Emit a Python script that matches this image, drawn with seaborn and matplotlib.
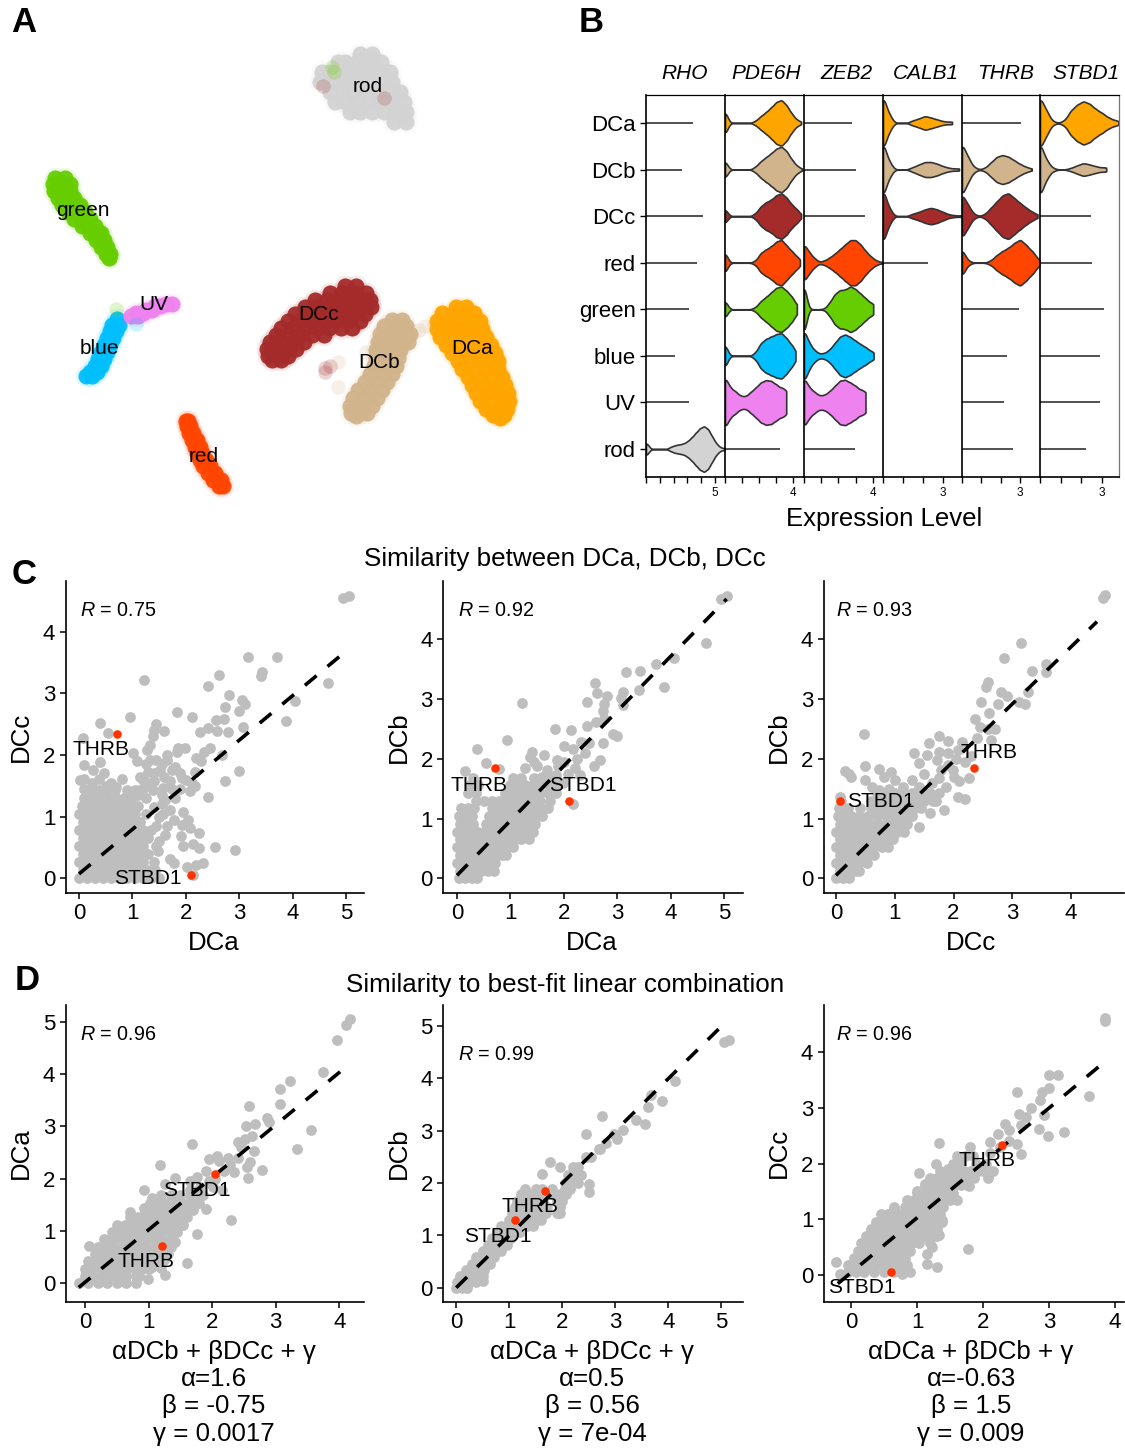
import numpy as np
import matplotlib
matplotlib.use("Agg")
import matplotlib.pyplot as plt
import seaborn as sns

W, H = 1125, 1449
CELLS = ["DCa", "DCb", "DCc", "red", "green", "blue", "UV", "rod"]
COLORS = {"DCa": "#FFA500", "DCb": "#D2B48C", "DCc": "#A52A2A", "red": "#FF4500",
          "green": "#66CD00", "blue": "#00BFFF", "UV": "#EE82EE", "rod": "#D3D3D3"}

# ---------- panel A: embedding, rows of y -> x positions per cluster ----------
A_rod = {54: [360, 372], 62: [338, 345, 357, 369, 381], 72: [322, 330, 342, 354, 366, 378, 390],
         82: [320, 332, 344, 356, 368, 380, 392], 92: [330, 342, 354, 366, 378, 390, 400],
         102: [335, 345, 357, 369, 381, 393, 404], 112: [350, 360, 372, 384, 396, 406], 122: [394, 406]}
A_green = {178: [55, 65], 184: [53, 63, 70], 191: [54, 62, 70], 198: [58, 66, 74], 205: [62, 70, 80], 212: [68, 76, 85],
           219: [74, 82, 90], 226: [82, 89, 95], 233: [90, 97, 101], 240: [96, 104], 247: [101, 107], 254: [106, 110], 258: [109]}
A_blue = {319: [117], 325: [112, 119], 331: [110, 116], 338: [107, 113], 345: [104, 110], 352: [101, 107],
          359: [98, 104], 366: [95, 101], 372: [90, 97], 376: [86, 92]}
A_UV = {304: [172, 166], 306: [155, 160], 310: [146, 152], 313: [136, 143], 316: [131, 138]}
A_red = {421: [186, 188], 426: [187, 190], 433: [189, 193], 440: [192, 197], 447: [195, 200], 453: [197, 202],
         460: [200, 206], 466: [203, 210], 473: [208, 215], 480: [213, 221], 486: [219, 223]}
A_DCc = {286: [345, 356], 293: [330, 342, 354, 366], 300: [315, 327, 339, 351, 363, 370],
         307: [305, 317, 329, 341, 353, 365, 371], 314: [295, 307, 319, 331, 343, 355, 365],
         321: [288, 300, 312, 324, 336, 348, 360], 328: [281, 293, 305, 317, 329, 341, 352],
         335: [276, 288, 300, 312, 324], 342: [270, 282, 294, 304], 349: [267, 277, 289, 296],
         356: [268, 280, 288], 360: [272, 281]}
A_DCb = {320: [392, 402], 326: [384, 396, 406], 334: [380, 392, 404, 410], 342: [378, 390, 402, 408],
         350: [376, 388, 400], 358: [376, 388, 398], 366: [374, 386, 396], 374: [370, 382, 392],
         382: [365, 377, 387], 390: [358, 370, 382], 398: [353, 365, 377], 406: [350, 362, 372],
         413: [351, 360, 367], 416: [356]}
A_DCa = {307: [456, 466], 313: [442, 454, 466, 474], 321: [437, 448, 460, 472, 480],
         329: [437, 448, 460, 472, 482], 337: [440, 452, 464, 476, 486], 345: [446, 458, 470, 482, 491],
         353: [452, 464, 476, 488, 495], 361: [458, 470, 482, 494, 498], 369: [462, 474, 486, 498],
         377: [468, 480, 492, 502], 385: [472, 484, 496, 505], 393: [476, 488, 500, 508],
         401: [480, 492, 504, 509], 409: [486, 498, 507], 415: [493, 504], 418: [500]}
A_clusters = {"rod": A_rod, "green": A_green, "blue": A_blue, "UV": A_UV, "red": A_red,
              "DCc": A_DCc, "DCb": A_DCb, "DCa": A_DCa}
A_stray_x = [332, 334, 323, 384, 325, 325, 330, 338, 338, 116, 136, 419, 425, 366]
A_stray_y = [67, 72, 86, 98, 372, 368, 366, 362, 387, 309, 324, 330, 326, 352]
A_stray_cell = ["green", "green", "DCc", "DCc", "DCc", "DCc", "DCc", "DCb", "DCb", "green", "blue", "DCb", "DCb", "DCb"]
A_labels = {"rod": (368, 86), "green": (83, 211), "UV": (154, 305), "blue": (99, 348),
            "DCc": (318, 315), "DCb": (379, 363), "DCa": (472, 349), "red": (204, 456)}

# ---------- panel B: expression samples (value, number of cells) ----------
GENES = ["RHO", "PDE6H", "ZEB2", "CALB1", "THRB", "STBD1"]
GENE_TITLE_X = [685, 766, 846, 926, 1006, 1086]
RHO_v = {"rod": [(0, 8), (.15, 2), (1.8, 3), (2.1, 5), (2.4, 6), (2.7, 7), (3.0, 10), (3.3, 15), (3.6, 21), (3.9, 27),
                 (4.2, 30), (4.5, 26), (4.8, 16), (5.1, 7), (5.4, 2), (5.7, 1)]}
PDE6H_v = {
    "DCa": [(0, 16), (1.8, 3), (2.1, 9), (2.4, 14), (2.7, 20), (3.0, 27), (3.3, 30), (3.6, 23), (3.9, 12), (4.2, 4), (4.45, 1)],
    "DCb": [(0, 12), (1.8, 4), (2.1, 11), (2.4, 16), (2.7, 21), (3.0, 27), (3.3, 30), (3.6, 24), (3.9, 13), (4.2, 5), (4.5, 1)],
    "DCc": [(0, 10), (1.8, 4), (2.1, 13), (2.4, 18), (2.7, 21), (3.0, 27), (3.3, 30), (3.6, 24), (3.9, 15), (4.2, 9), (4.45, 1)],
    "red": [(0, 14), (1.8, 3), (2.1, 13), (2.4, 17), (2.7, 21), (3.0, 27), (3.3, 30), (3.6, 22), (3.9, 15), (4.2, 8), (4.38, 1)],
    "green": [(0, 12), (1.8, 3), (2.1, 11), (2.4, 16), (2.7, 22), (3.0, 28), (3.3, 30), (3.6, 24), (3.9, 17), (4.2, 6)],
    "blue": [(0, 16), (1.8, 5), (2.1, 17), (2.4, 22), (2.7, 25), (3.0, 28), (3.3, 30), (3.6, 23), (3.9, 14), (4.12, 3)],
    "UV": [(0, 36), (.3, 20), (.6, 15), (.9, 9), (1.2, 8), (1.5, 14), (1.8, 20), (2.1, 27), (2.4, 30), (2.7, 29),
           (3.0, 24), (3.3, 19), (3.58, 16)]}
ZEB2_v = {
    "red": [(0, 26), (.3, 14), (.6, 6), (.9, 1), (1.2, 3), (1.5, 7), (1.8, 12), (2.1, 18), (2.4, 24), (2.7, 30), (3.0, 30),
            (3.3, 24), (3.6, 15), (3.9, 8), (4.2, 3), (4.55, 1)],
    "green": [(0, 34), (1.2, 1), (1.5, 9), (1.8, 20), (2.1, 25), (2.4, 25), (2.7, 30), (3.0, 26), (3.3, 20), (3.6, 14),
              (3.9, 7), (4.03, 3)],
    "blue": [(0, 38), (.3, 18), (.6, 8), (.9, 3), (1.2, 4), (1.5, 9), (1.8, 18), (2.1, 27), (2.4, 30), (2.7, 26), (3.0, 21),
             (3.3, 16), (3.6, 12), (3.9, 6), (4.05, 2)],
    "UV": [(0, 34), (.3, 20), (.6, 14), (.9, 9), (1.2, 10), (1.5, 15), (1.8, 22), (2.1, 29), (2.4, 30), (2.7, 26), (3.0, 22),
           (3.3, 16), (3.58, 14)]}
CALB1_v = {
    "DCa": [(0, 32), (.3, 10), (1.5, 3), (1.8, 5), (2.1, 8), (2.4, 6), (2.7, 4), (3.0, 2), (3.3, 1), (3.45, 1)],
    "DCb": [(0, 34), (.3, 10), (1.5, 3), (1.8, 6), (2.1, 9), (2.4, 9), (2.7, 7), (3.0, 4), (3.3, 2), (3.6, 1), (3.8, 1)],
    "DCc": [(0, 34), (.3, 10), (1.5, 3), (1.8, 5), (2.1, 8), (2.4, 10), (2.7, 8), (3.0, 5), (3.3, 2), (3.6, 1), (3.95, 1)]}
THRB_v = {
    "DCb": [(0, 30), (.3, 14), (.6, 3), (1.2, 2), (1.5, 8), (1.8, 14), (2.1, 16), (2.4, 14), (2.7, 10), (3.0, 6), (3.3, 3), (3.6, 1)],
    "DCc": [(0, 30), (.3, 15), (.6, 3), (1.2, 3), (1.5, 11), (1.8, 19), (2.1, 27), (2.4, 30), (2.7, 23), (3.0, 17), (3.3, 11),
            (3.6, 6), (3.9, 2)],
    "red": [(0, 18), (.3, 3), (1.5, 3), (1.8, 10), (2.1, 15), (2.4, 19), (2.7, 25), (3.0, 30), (3.3, 23), (3.6, 15), (3.85, 5), (4.0, 1)]}
STBD1_v = {
    "DCa": [(0, 30), (.3, 14), (.6, 2), (1.2, 3), (1.5, 14), (1.8, 20), (2.1, 24), (2.4, 21), (2.7, 15), (3.0, 11), (3.3, 6),
            (3.6, 3), (3.8, 1)],
    "DCb": [(0, 34), (.3, 12), (.6, 2), (1.5, 2), (1.8, 5), (2.1, 8), (2.4, 6), (2.7, 4), (3.0, 2), (3.2, 2)]}
RHO_flat = {"DCa": 3.4, "DCb": 2.58, "DCc": 4.12, "red": 3.69, "green": 3.12, "blue": 2.11, "UV": 3.14}
PDE6H_flat = {"rod": 3.2}
ZEB2_flat = {"DCa": 2.82, "DCb": 3.04, "DCc": 3.58, "rod": 2.99}
CALB1_flat = {"red": 2.27}
THRB_flat = {"DCa": 3.06, "green": 2.92, "blue": 2.35, "UV": 2.15, "rod": 2.64}
STBD1_flat = {"DCc": 2.47, "red": 2.53, "green": 3.09, "blue": 2.92, "UV": 2.92, "rod": 2.22}
GENE_VIOLINS = [RHO_v, PDE6H_v, ZEB2_v, CALB1_v, THRB_v, STBD1_v]
GENE_FLAT = [RHO_flat, PDE6H_flat, ZEB2_flat, CALB1_flat, THRB_flat, STBD1_flat]
GENE_XMAX = [5.72, 4.62, 4.6, 3.95, 4.03, 3.82]
GENE_TICKS = [[0, 1, 2, 3, 4, 5], [0, 1, 2, 3, 4], [0, 1, 2, 3, 4], [0, 1, 2, 3], [0, 1, 2, 3], [0, 1, 2, 3]]

# ---------- panels C, D: scatter values, sparse outliers + dense rows (y: xs) ----------
C1_pts = [(4.94,4.54),(5.06,4.58),(3.17,3.59),(3.71,3.58),(3.43,3.34),(3.40,3.28),(2.62,3.29),(2.42,3.12),(1.21,3.22),(4.66,3.16),
 (2.80,2.97),(3.05,2.89),(3.10,2.82),(4.04,2.88),(2.74,2.77),(3.0,2.72),(3.87,2.55),(2.72,2.59),(2.57,2.57),(3.08,2.45),(1.83,2.70),
 (2.12,2.62),(.95,2.62),(.39,2.51),(.54,2.35),(.07,2.28),(2.26,2.37),(2.42,2.44),(2.59,2.38),(2.79,2.37),(1.44,2.50),(1.41,2.41),
 (1.59,2.39),(1.39,2.30),(1.33,2.16),(1.27,2.08),(1.98,2.12),(1.86,2.11),(1.83,2.04),(2.45,2.12),(2.34,2.05),(2.67,2.0),(2.28,1.90),
 (2.99,1.74),(2.73,1.57),(2.17,1.73),(1.02,2.03),(1.08,1.90),(.40,1.89),(.09,1.83),(.26,1.76),(.46,1.70),(.37,1.61),(.09,1.61),(.02,1.59),
 (.81,1.61),(1.33,1.92),(1.45,1.92),(1.64,1.91),(1.52,1.76),(1.30,1.73),(1.14,1.65),(1.8,1.81),(1.89,1.70),(1.92,1.62),(1.40,1.57),
 (1.70,1.57),(1.58,1.46),(1.39,1.43),(2.11,1.54),(2.08,1.41),(2.17,1.49),(2.41,1.32),(1.8,1.30),(1.61,1.27),(1.95,1.08),(2.05,.95),
 (1.77,.95),(1.92,.86),(2.08,.81),(1.64,.84),(1.61,.70),(2.25,.73),(1.91,.68),(1.95,.53),(2.14,.56),(2.25,.49),(2.54,.50),(2.93,.46),
 (1.70,.32),(1.77,.25),(2.03,.19),(2.2,.22),(2.33,.24),(2.14,.05),(1.58,1.05),(1.7,1.11),(1.3,1.55),(1.2,1.45),(1.5,.6),(1.48,.45),
 (1.1,1.35),(1.25,1.3),(1.55,1.2),(1.4,1.15),(1.5,1.0),(1.45,.85),(1.55,1.35),(1.75,1.45),(1.2,1.6),(1.6,1.65),(1.75,1.75),(1.55,1.85),
 (1.9,1.45),(2.0,1.6),(1.25,1.85),(1.4,1.7),(.6,1.55),(.7,1.48),(.5,1.5),(.25,1.55),(.1,1.45),(2.2,1.95),(1.65,2.0)]
C1_rows = {0: [0,.15,.3,.45,.6,.75,.9,1.05,1.2,1.35,1.5], .13: [.075,.225,.375,.525,.675,.825,.975,1.125,1.275,1.42],
 .26: [0,.15,.3,.45,.6,.75,.9,1.05,1.2,1.4], .39: [.075,.225,.375,.525,.675,.825,.975,1.125,1.3], .52: [0,.15,.3,.45,.6,.75,.9,1.05,1.2,1.45],
 .65: [.075,.225,.375,.525,.675,.825,.975,1.125,1.3], .78: [0,.15,.3,.45,.6,.75,.9,1.05,1.2,1.35], .91: [.075,.225,.375,.525,.675,.825,.975,1.15],
 1.04: [0,.15,.3,.45,.6,.75,.9,1.05,1.25], 1.17: [.05,.2,.35,.5,.65,.8,.95,1.1], 1.3: [.1,.25,.4,.55,.7,.85,1.0],
 1.43: [.22,.37,.5,.68,.9,1.05,1.15]}
C1_line = ([0, 5.05], [.07, 3.72])
C1_red = ([.71, 2.10], [2.34, .06])

C2_pts = [(4.94,4.67),(5.06,4.72),(4.66,3.94),(4.06,3.68),(3.73,3.58),(3.16,3.45),(3.43,3.47),(3.88,3.2),(2.58,3.27),(2.63,3.09),(2.81,3.04),
 (3.10,3.12),(3.07,3.01),(3.40,3.14),(1.21,2.93),(2.44,2.95),(2.75,2.91),(2.73,2.79),(3.10,2.90),(2.76,2.66),(2.61,2.62),(2.44,2.55),
 (1.84,2.50),(2.14,2.48),(2.92,2.42),(2.99,2.38),(.94,2.32),(.38,2.16),(2.73,2.26),(2.0,2.22),(2.32,2.28),(2.48,2.26),(2.18,2.17),(2.67,1.98),
 (2.56,1.88),(.54,1.92),(.78,1.83),(.15,1.79),(1.41,2.12),(1.63,2.06),(1.36,2.03),(1.87,1.98),(1.90,1.87),(1.27,1.84),(1.5,1.87),(1.68,1.81),
 (2.21,1.84),(2.3,1.73),(2.08,1.75),(1.99,1.59),(2.17,1.25),(1.45,1.95),(1.6,1.7),(1.85,1.72),(1.75,1.6),(2.0,1.95),(2.25,2.0),(2.4,2.1)]
C2_rows = {0: [.03,.15,.28,.38], .13: [.065,.195,.325,.455,.58,.7], .26: [0,.13,.26,.39,.52,.65,.72], .39: [.065,.195,.325,.455,.585,.715,.845,.92],
 .52: [0,.13,.26,.39,.52,.65,.78,.91,1.05], .65: [.065,.195,.325,.455,.585,.715,.845,.975,1.105,1.2,1.35], .78: [0,.13,.26,.39,.52,.65,.78,.91,1.04,1.17,1.3,1.42],
 .91: [.06,.19,.3,.55,.68,.81,.94,1.07,1.2,1.33,1.46], 1.04: [.03,.16,.29,.6,.73,.86,.99,1.12,1.25,1.38,1.5,1.6], 1.17: [.08,.21,.32,.65,.78,.91,1.04,1.17,1.3,1.43,1.56,1.7],
 1.3: [.35,.5,.65,.78,.91,1.04,1.17,1.3,1.43,1.56,1.75], 1.43: [.2,.35,.9,1.04,1.17,1.3,1.43,1.56,1.7,1.85], 1.56: [.25,.4,1.0,1.14,1.28,1.42,1.56,1.7,1.9], 1.68: [.3,1.05,1.2,1.45,1.6,1.72,1.82]}
C2_line = ([0, 5.05], [.05, 4.67])
C2_red = ([.71, 2.10], [1.84, 1.29])

C3_pts = [(4.55,4.68),(4.58,4.73),(3.14,3.94),(2.86,3.68),(3.33,3.47),(3.57,3.58),(3.57,3.45),(2.59,3.28),(2.55,3.19),(3.27,3.12),(2.80,3.12),
 (2.91,3.04),(3.11,2.94),(3.22,2.92),(2.47,2.94),(2.75,2.91),(2.61,2.77),(2.37,2.67),(2.45,2.53),(2.71,2.49),(2.59,2.49),(2.63,2.32),(.47,2.42),
 (1.75,2.38),(1.58,2.26),(1.91,2.30),(2.15,2.28),(1.32,2.09),(1.54,2.06),(1.75,2.12),(2.07,2.14),(1.42,1.93),(1.71,1.97),(.5,1.88),(.74,1.83),
 (.15,1.80),(.22,1.74),(.26,1.70),(.94,1.77),(.82,1.70),(.5,1.64),(.62,1.53),(1.79,1.81),(1.5,1.75),(1.99,1.81),(2.27,1.67),(2.09,1.63),(2.07,1.36),
 (2.19,1.33),(1.84,1.14),(1.41,.85),(1.75,1.67),(1.87,1.53),(1.63,1.59),(1.42,1.53),(1.14,1.53),(.9,1.5),(.74,1.48),(.06,1.36),(2.0,1.7),(1.9,1.9),(1.7,1.3),(1.6,1.1),
 (2.2,1.95),(2.05,2.0),(2.4,2.35),(2.3,2.05),(1.9,2.1),(1.3,1.65),(1.0,1.65)]
C3_rows = {0: [0,.12,.22], .13: [.065,.195,.325,.39], .26: [0,.13,.26,.39,.52], .39: [.065,.195,.325,.455,.585,.65], .52: [0,.13,.26,.39,.52,.65,.78,.88],
 .65: [.065,.195,.325,.455,.585,.715,.845,.975], .78: [0,.13,.26,.39,.52,.65,.78,.91,1.04,1.15], .91: [.065,.195,.325,.455,.585,.715,.845,.975,1.105,1.2],
 1.04: [.03,.13,.26,.39,.55,.7,.85,1.0,1.15,1.3], 1.17: [.05,.2,.4,.6,.75,.9,1.05,1.2,1.35,1.45], 1.3: [.08,.6,.75,.9,1.05,1.2,1.35,1.5,1.65],
 1.42: [.7,.85,1.0,1.15,1.3,1.45,1.6,1.75]}
C3_line = ([0, 4.44], [.05, 4.29])
C3_red = ([2.34, .06], [1.84, 1.29])

D1_pts = [(4.17,5.05),(4.10,4.93),(3.97,4.65),(3.75,4.04),(3.23,3.86),(3.07,3.71),(3.07,3.42),(2.58,3.39),(3.55,2.93),(3.33,2.57),(2.86,3.16),(2.89,3.08),
 (2.67,3.05),(2.53,3.0),(2.63,2.81),(2.51,2.76),(2.41,2.71),(2.46,2.61),(2.66,2.53),(1.69,2.67),(1.18,2.26),(1.95,2.37),(2.07,2.44),(2.11,2.34),(2.25,2.40),
 (2.40,2.40),(2.60,2.31),(2.55,2.22),(2.78,2.17),(2.35,2.12),(2.56,2.02),(1.42,2.02),(1.26,1.90),(1.76,2.04),(1.65,1.95),(1.91,2.14),(2.18,2.14),(2.28,2.26),
 (.93,1.78),(1.05,1.63),(1.90,1.42),(2.30,1.21),(1.76,.94),(1.42,.78),(1.6,.38),(1.26,.16),(.99,.08),(.06,.71),(.71,1.36),(.92,1.43),(1.81,1.66),(1.65,1.79),
 (1.81,1.85),(2.02,1.85),(2.15,1.79),(1.76,1.53),(1.95,1.95),(2.05,2.0),(1.25,.45),(1.05,.32),(1.2,.3)]
D1_rows = {0: [-.1,.05,.2,.35,.5,.65,.8], .14: [0,.13,.26,.39,.52,.65,.8,.85], .28: [0,.13,.26,.39,.52,.65,.78,.9,1.0], .42: [.05,.18,.31,.44,.57,.7,.83,.96,1.09,1.2],
 .56: [.15,.28,.41,.54,.67,.8,.93,1.06,1.19,1.3], .7: [.2,.33,.46,.59,.72,.85,.98,1.11,1.25,1.35], .84: [.3,.43,.56,.69,.82,.95,1.08,1.2,1.33],
 .98: [.42,.55,.68,.81,.94,1.07,1.2,1.33,1.45], 1.12: [.5,.63,.76,.89,1.02,1.15,1.28,1.41,1.54], 1.26: [.7,.83,.96,1.09,1.22,1.35,1.48,1.6],
 1.4: [.95,1.08,1.21,1.34,1.47,1.6,1.7], 1.54: [1.02,1.15,1.28,1.41,1.54,1.67,1.8], 1.68: [1.2,1.35,1.5,1.65,1.85]}
D1_line = ([-.1, 4.17], [-.08, 4.2])
D1_red = ([2.04, 1.21], [2.09, .71])

D2_pts = [(5.14,4.73),(5.05,4.69),(4.13,3.94),(3.89,3.57),(3.67,3.68),(3.61,3.45),(3.57,3.13),(3.40,3.2),(2.75,3.27),(2.44,2.93),(3.15,3.01),(2.97,2.93),
 (3.04,2.84),(2.83,2.77),(2.72,2.64),(1.77,2.41),(1.96,2.31),(1.62,2.17),(2.5,1.99),(2.5,1.83),(1.95,1.43),(.5,.13)]
D2_rows = {0: [0,.1,.2], .1: [.02,.14,.26,.38], .22: [.08,.2,.32,.44,.5], .34: [.18,.3,.42,.52], .46: [.3,.42,.54,.64], .58: [.38,.5,.62,.72], .7: [.5,.62,.74,.84],
 .82: [.6,.72,.84,.96], .94: [.68,.8,.92,1.04], 1.06: [.76,.88,1.0,1.12,1.2], 1.18: [.85,.97,1.09,1.21,1.33,1.45], 1.3: [1.0,1.12,1.24,1.36,1.48,1.6],
 1.42: [1.05,1.17,1.29,1.41,1.53,1.7,1.9], 1.54: [1.1,1.22,1.34,1.46,1.58,1.72,1.95], 1.66: [1.15,1.27,1.39,1.51,1.63,1.9,2.0], 1.78: [1.22,1.34,1.46,1.6,1.78,1.95,2.08],
 1.88: [1.3,1.5,1.62,1.8,2.05,2.15], 2.0: [2.05,2.2,2.3], 2.15: [2.1,2.25,2.35], 2.3: [2.2,2.3], 2.5: [2.45,2.55], 2.65: [2.7]}
D2_line = ([0, 5.14], [0, 5.13])
D2_red = ([1.68, 1.1], [1.85, 1.29])

D3_pts = [(3.85,4.56),(3.85,4.6),(3.0,3.58),(3.14,3.59),(3.6,3.21),(2.52,3.28),(3.0,3.35),(2.9,3.29),(2.87,3.13),(2.72,2.99),(2.92,2.87),(2.54,2.89),(2.65,2.84),
 (2.57,2.70),(2.85,2.62),(2.98,2.5),(3.23,2.56),(2.33,2.71),(2.4,2.6),(2.22,2.53),(2.51,2.35),(2.57,2.18),(1.33,2.36),(1.81,2.29),(2.11,2.39),(2.11,2.19),(1.29,1.99),
 (1.47,1.9),(1.03,1.83),(1.12,1.63),(1.0,1.51),(.65,1.2),(-.23,.24),(1.77,.47),(1.31,.14),(1.15,.21),(.9,.05),(.77,.02),(-.17,.02),(2.08,1.74),(2.15,1.86),(1.72,2.13),
 (1.97,1.95),(1.79,1.59),(1.61,1.35),(1.38,.99),(1.33,.72),(1.22,.51),(1.15,.39),(.79,.24),(2.25,2.3),(2.4,2.4)]
D3_rows = {.05: [-.05,.08,.2,.35,.5,.65,.75], .18: [-.05,.06,.17,.28,.39,.5,.61,.72,.85], .31: [.05,.16,.27,.38,.49,.6,.71,.82], .44: [.1,.21,.32,.43,.54,.65,.76,.9],
 .57: [.15,.26,.37,.48,.59,.7,.81,.92,1.03,1.2], .7: [.22,.33,.44,.55,.66,.77,.88,.99,1.1,1.21,1.3], .83: [.3,.41,.52,.63,.74,.85,.96,1.07,1.18,1.3],
 .96: [.38,.49,.6,.71,.82,.93,1.04,1.15,1.25,1.38], 1.09: [.45,.56,.67,.78,.89,1,1.11,1.22,1.35], 1.22: [.65,.82,.93,1.04,1.15,1.26,1.4],
 1.35: [.85,.96,1.07,1.18,1.29,1.4,1.5], 1.48: [1.0,1.11,1.22,1.33,1.44,1.55], 1.61: [1.12,1.23,1.34,1.45,1.56,1.67,1.78], 1.74: [1.2,1.31,1.42,1.53,1.64,1.75,1.86],
 1.87: [1.35,1.5,1.6,1.71,1.82,1.93,2.0], 2.0: [1.55,1.66,1.9,2.05], 2.13: [1.6,1.85]}
D3_line = ([-.2, 3.85], [-.15, 3.83])
D3_red = ([2.29, .6], [2.34, .06])

PANELS = [
 dict(pts=C1_pts, rows=C1_rows, line=C1_line, red=C1_red, box=(66, 581, 364, 892.7), xlim=(-.243, 5.337), ylim=(-.234, 4.82),
      xt=[0,1,2,3,4,5], yt=[0,1,2,3,4], xl="DCa", xlx=214, yl="DCc", r="0.75", rpos=(80, 611),
      txt=[("THRB", .42, 2.08), ("STBD1", 1.29, 0.0)]),
 dict(pts=C2_pts, rows=C2_rows, line=C2_line, red=C2_red, box=(443.5, 581, 743, 892.7), xlim=(-.253, 5.356), ylim=(-.24, 4.97),
      xt=[0,1,2,3,4,5], yt=[0,1,2,3,4], xl="DCa", xlx=592, yl="DCb", r="0.92", rpos=(458, 611),
      txt=[("THRB", .42, 1.56), ("STBD1", 2.36, 1.56)]),
 dict(pts=C3_pts, rows=C3_rows, line=C3_line, red=C3_red, box=(824, 581, 1124, 892.7), xlim=(-.204, 4.9), ylim=(-.24, 4.97),
      xt=[0,1,2,3,4], yt=[0,1,2,3,4], xl="DCc", xlx=971, yl="DCb", r="0.93", rpos=(836, 611),
      txt=[("STBD1", .76, 1.29), ("THRB", 2.6, 2.11)]),
 dict(pts=D1_pts, rows=D1_rows, line=D1_line, red=D1_red, box=(66, 1005, 364, 1301.7), xlim=(-.3, 4.39), ylim=(-.352, 5.32),
      xt=[0,1,2,3,4], yt=[0,1,2,3,4,5], xl="\u03b1DCb + \u03b2DCc + \u03b3\n\u03b1=1.6\n\u03b2 = -0.75\n\u03b3 = 0.0017", xlx=214, yl="DCa", r="0.96", rpos=(80, 1035),
      txt=[("STBD1", 1.76, 1.78), ("THRB", .96, .41)]),
 dict(pts=D2_pts, rows=D2_rows, line=D2_line, red=D2_red, box=(443.5, 1005, 743, 1301.7), xlim=(-.24, 5.41), ylim=(-.268, 5.4),
      xt=[0,1,2,3,4,5], yt=[0,1,2,3,4,5], xl="\u03b1DCa + \u03b2DCc + \u03b3\n\u03b1=0.5\n\u03b2 = 0.56\n\u03b3 = 7e-04", xlx=592, yl="DCb", r="0.99", rpos=(458, 1055),
      txt=[("THRB", 1.39, 1.56), ("STBD1", .79, .97)]),
 dict(pts=D3_pts, rows=D3_rows, line=D3_line, red=D3_red, box=(824, 1005, 1124, 1301.7), xlim=(-.409, 4.136), ylim=(-.473, 4.84),
      xt=[0,1,2,3,4], yt=[0,1,2,3,4], xl="\u03b1DCa + \u03b2DCb + \u03b3\n\u03b1=-0.63\n\u03b2 = 1.5\n\u03b3 = 0.009", xlx=971, yl="DCc", r="0.96", rpos=(836, 1035),
      txt=[("THRB", 2.06, 2.05), ("STBD1", .17, -.21)]),
]

# ---------- drawing ----------
sns.set_theme(style="ticks")
plt.rcParams["font.family"] = ["Liberation Sans", "DejaVu Sans"]
plt.rcParams["mathtext.fontset"] = "custom"
plt.rcParams["mathtext.it"] = "Liberation Sans:italic"
plt.rcParams["mathtext.rm"] = "Liberation Sans"
plt.rcParams["text.color"] = "black"
plt.rcParams["axes.labelcolor"] = "black"
plt.rcParams["xtick.color"] = "black"
plt.rcParams["ytick.color"] = "black"

fig = plt.figure(figsize=(W / 100, H / 100), dpi=100, facecolor="white")


def axpx(l, t, r, b):
    return fig.add_axes([l / W, 1 - b / H, (r - l) / W, (b - t) / H], facecolor="none")


def ftext(x, y, s, **kw):
    kw.setdefault("ha", "center")
    kw.setdefault("va", "center")
    fig.text(x / W, 1 - y / H, s, **kw)


def unroll(rows):
    xs, ys = [], []
    for y, row in rows.items():
        xs += list(row)
        ys += [y] * len(row)
    return xs, ys


# panel A
axA = axpx(0, 30, 530, 510)
for cell, rows in A_clusters.items():
    xs, ys = unroll(rows)
    sns.scatterplot(x=xs, y=ys, color=COLORS[cell], s=240, alpha=.10, linewidth=0, ax=axA, legend=False)
    sns.scatterplot(x=xs, y=ys, color=COLORS[cell], s=135, alpha=.95, linewidth=0, ax=axA, legend=False)
for x, y, c in zip(A_stray_x, A_stray_y, A_stray_cell):
    sns.scatterplot(x=[x], y=[y], color=COLORS[c], s=110, alpha=.2, linewidth=0, ax=axA, legend=False)
axA.set_xlim(0, 530)
axA.set_ylim(510, 30)
axA.set_axis_off()
for lab, (x, y) in A_labels.items():
    axA.text(x, y, lab, fontsize=15, ha="center", va="center", color="black")

# panel B
edges = [646, 725, 804, 883, 962, 1040, 1119]
SIGMA = .16
for i, gene in enumerate(GENES):
    ax = axpx(edges[i], 95, edges[i + 1], 477)
    for cell, pairs in GENE_VIOLINS[i].items():
        vals = np.repeat([p[0] for p in pairs], [p[1] for p in pairs])
        sns.violinplot(x=vals, y=[cell] * len(vals), order=CELLS, orient="h", color=COLORS[cell], saturation=1,
                       density_norm="width", cut=0, inner=None, linewidth=1.2, linecolor="#333333", width=.97,
                       bw_method=SIGMA / vals.std(ddof=1), ax=ax)
    for cell, xmax in GENE_FLAT[i].items():
        ax.hlines(CELLS.index(cell), 0, xmax, color="#333333", lw=1.2)
    ax.set_xlim(0, GENE_XMAX[i])
    ax.set_ylim(7.6, -.6)
    ticks = GENE_TICKS[i]
    ax.set_xticks(ticks)
    ax.set_xticklabels([""] * (len(ticks) - 1) + [str(ticks[-1])], fontsize=8.5)
    ax.tick_params(axis="x", length=4.5, width=1, pad=2.5, color="black")
    ax.set_xlabel("")
    ax.set_ylabel("")
    if i == 0:
        ax.set_yticks(range(8))
        ax.set_yticklabels(CELLS, fontsize=16)
        ax.tick_params(axis="y", length=4, width=1, pad=3.5)
    else:
        ax.set_yticks(range(8))
        ax.set_yticklabels([])
        ax.tick_params(axis="y", length=0)
    for s in ["left", "bottom"]:
        ax.spines[s].set_linewidth(1.2)
        ax.spines[s].set_color("black")
    ax.spines["top"].set_linewidth(.9)
    ax.spines["top"].set_color("black")
    ax.spines["right"].set_visible(i == 5)
    ax.spines["right"].set_linewidth(.9)
    ax.spines["right"].set_color("#777777")
    ftext(GENE_TITLE_X[i], 73.5, gene, fontsize=15, style="italic")

ftext(884, 519, "Expression Level", fontsize=18.5)

# panels C, D
for k, p in enumerate(PANELS):
    ax = axpx(*p["box"])
    rx, ry = unroll(p["rows"])
    xs = rx + [q[0] for q in p["pts"]]
    ys = ry + [q[1] for q in p["pts"]]
    sns.scatterplot(x=xs, y=ys, color="#BEBEBE", s=60, linewidth=0, ax=ax, legend=False)
    ax.plot(p["line"][0], p["line"][1], color="black", lw=2.6, linestyle=(0, (4.2, 3.95)), dash_capstyle="butt", zorder=4)
    sns.scatterplot(x=p["red"][0], y=p["red"][1], color="#FF3300", s=38, linewidth=0, ax=ax, legend=False, zorder=5)
    ax.set_xlim(*p["xlim"])
    ax.set_ylim(*p["ylim"])
    ax.set_xticks(p["xt"])
    ax.set_yticks(p["yt"])
    ax.tick_params(axis="both", labelsize=16, length=4.2, width=1.1, pad=3.5, color="black")
    sns.despine(ax=ax)
    for s in ["left", "bottom"]:
        ax.spines[s].set_linewidth(1.2)
        ax.spines[s].set_color("black")
    l, _, r, _ = p["box"]
    ax.set_xlabel(p["xl"], fontsize=18.6, labelpad=4.5, linespacing=1.18, color="black", x=(p["xlx"] - l) / (r - l))
    ax.set_ylabel(p["yl"], fontsize=18.6, labelpad=7, color="black")
    for lab, x, y in p["txt"]:
        ax.text(x, y, lab, fontsize=15, ha="center", va="center", color="black", zorder=6)
    ftext(p["rpos"][0], p["rpos"][1], r"$\mathit{R}$ = " + p["r"], fontsize=14.2, ha="left")

ftext(565, 559, "Similarity between DCa, DCb, DCc", fontsize=18.7)
ftext(565, 985, "Similarity to best-fit linear combination", fontsize=18.7)
for lab, x, y in [("A", 24, 23), ("B", 591, 23), ("C", 24, 574), ("D", 27, 980)]:
    ftext(x, y, lab, fontsize=25, fontweight="bold")

fig.savefig("out.png", dpi=100, facecolor="white")
